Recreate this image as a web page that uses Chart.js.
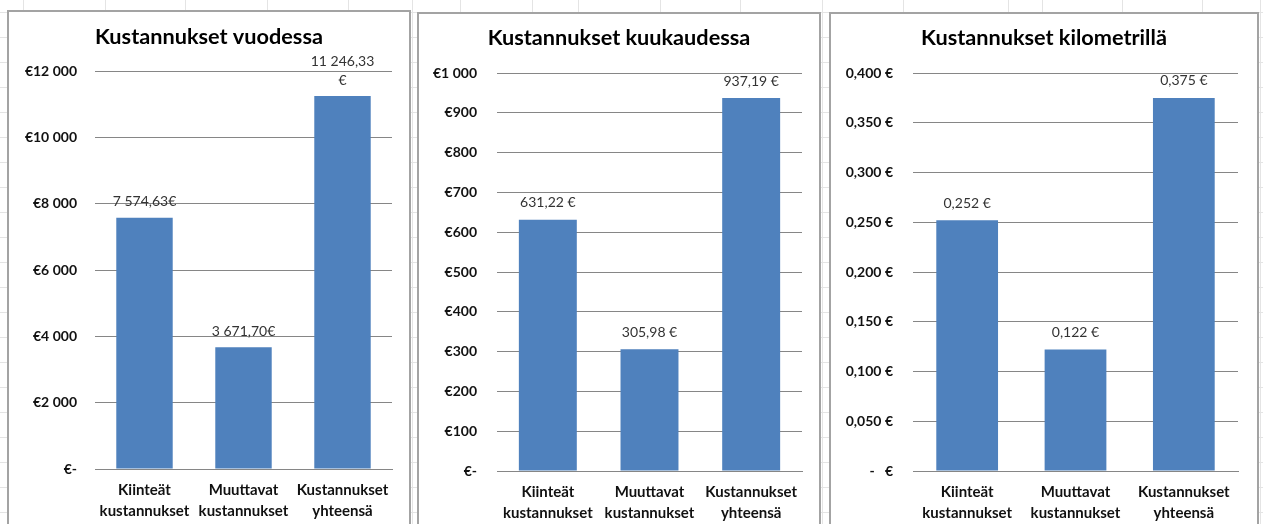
<!DOCTYPE html>
<html>
<head>
<meta charset="utf-8">
<title>Kustannukset</title>
<script src="https://cdn.jsdelivr.net/npm/chart.js@4/dist/chart.umd.min.js"></script>
<style>
  html, body { margin: 0; padding: 0; }
  body {
    width: 1263px; height: 524px; overflow: hidden; position: relative;
    background-color: #fff;
    background-image: repeating-linear-gradient(to bottom, transparent 0, transparent 12px, #e4e4e4 12px, #e4e4e4 13px, transparent 13px, transparent 25px);
  }
  .sheet-col { position: absolute; top: 0; width: 1px; height: 524px; background: #e4e4e4; }
  .box {
    position: absolute; box-sizing: border-box; height: 540px;
    border: 2px solid #a3a3a3; background: #fff;
  }
  .box canvas { display: block; }
</style>
</head>
<body>
<div class="box" id="box1" style="left:7px;top:10px;width:404px;"><canvas id="yearChart"></canvas></div>
<div class="box" id="box2" style="left:417px;top:12px;width:404px;"><canvas id="monthChart"></canvas></div>
<div class="box" id="box3" style="left:829px;top:12px;width:430px;"><canvas id="kmChart"></canvas></div>

<script>
// categories (shared by all three charts)
var categories = [
  ['Kiinteät', 'kustannukset'],
  ['Muuttavat', 'kustannukset'],
  ['Kustannukset', 'yhteensä']
];

// series values
var yearValues = [7574.63, 3671.70, 11246.33];
var monthValues = [631.22, 305.98, 937.19];
var kmValues = [0.252, 0.122, 0.375];

// value labels as shown above the bars
var yearLabels = ['7 574,63€', '3 671,70€', ['11 246,33', '€']];
var monthLabels = ['631,22 €', '305,98 €', '937,19 €'];
var kmLabels = ['0,252 €', '0,122 €', '0,375 €'];

// axis ranges
var yearAxis = { max: 12000, step: 2000 };
var monthAxis = { max: 1000, step: 100 };
var kmAxis = { max: 0.4, step: 0.05 };

// faint spreadsheet columns behind the charts
var sheetCols = [23, 105, 185, 267, 348, 412, 460, 532, 578, 660, 740, 822, 903, 1008, 1042, 1122, 1202, 1260];
sheetCols.forEach(function (x) {
  var d = document.createElement('div');
  d.className = 'sheet-col';
  d.style.left = x + 'px';
  document.body.insertBefore(d, document.body.firstChild);
});

var FONT = 'Lato, "Open Sans", sans-serif';
var BAR_COLOR = '#4F81BD';
var GRID_COLOR = '#868686';

function spaced(n) {
  return String(n).replace(/\B(?=(\d{3})+(?!\d))/g, ' ');
}

/**
 * Draw the value text above every bar.
 */
var valueLabelPlugin = {
  id: 'valueLabels',
  afterDatasetsDraw: function (chart, args, opts) {
    var ctx = chart.ctx;
    var meta = chart.getDatasetMeta(0);
    ctx.save();
    ctx.font = '14px ' + FONT;
    ctx.fillStyle = '#333';
    ctx.textAlign = 'center';
    ctx.textBaseline = 'middle';
    meta.data.forEach(function (bar, i) {
      var lines = [].concat(opts.labels[i]);
      var y = bar.y - opts.offset;
      for (var k = lines.length - 1; k >= 0; k--) {
        ctx.fillText(lines[k], bar.x, y);
        y -= 19;
      }
    });
    ctx.restore();
  }
};

/**
 * Render one Excel-style bar chart.
 */
function renderBarChart(canvasId, cfg) {
  var canvas = document.getElementById(canvasId);
  canvas.width = cfg.width;
  canvas.height = cfg.height;
  canvas.style.width = cfg.width + 'px';
  canvas.style.height = cfg.height + 'px';
  return new Chart(canvas.getContext('2d'), {
    type: 'bar',
    data: {
      labels: categories,
      datasets: [{
        data: cfg.values,
        backgroundColor: BAR_COLOR,
        borderWidth: 0,
        categoryPercentage: 0.57,
        barPercentage: 1
      }]
    },
    plugins: [valueLabelPlugin],
    options: {
      responsive: false,
      animation: false,
      layout: { padding: 0 },
      scales: {
        x: {
          grid: { display: false, drawTicks: false },
          border: { display: true, color: GRID_COLOR, width: 1 },
          ticks: {
            color: '#111',
            padding: 10,
            maxRotation: 0,
            autoSkip: false,
            font: { family: FONT, size: 15, weight: 'bold', lineHeight: 1.45 }
          },
          afterFit: function (scale) { scale.height = cfg.height - cfg.plotBottom; }
        },
        y: {
          min: 0,
          max: cfg.axis.max,
          grid: { color: GRID_COLOR, lineWidth: 1, drawTicks: false },
          border: { display: false },
          ticks: {
            stepSize: cfg.axis.step,
            color: '#111',
            padding: cfg.tickPad,
            font: { family: FONT, size: 14, weight: 'bold' },
            callback: cfg.tickFormat
          },
          afterFit: function (scale) { scale.width = cfg.plotLeft; }
        },
        // empty right-hand spacer so the title stays centred on the whole box
        spacer: {
          type: 'linear',
          position: 'right',
          grid: { display: false, drawTicks: false },
          border: { display: false },
          ticks: { display: false },
          afterFit: function (scale) { scale.width = cfg.padRight; }
        }
      },
      plugins: {
        legend: { display: false },
        tooltip: { enabled: false },
        title: {
          display: true,
          text: cfg.title,
          color: '#000',
          font: { family: FONT, size: 21.7, weight: 'bold', lineHeight: 1.2 },
          padding: { top: cfg.titleCenter - 13, bottom: cfg.plotTop - cfg.titleCenter - 13 }
        },
        valueLabels: { labels: cfg.labels, offset: cfg.labelOffset }
      }
    }
  });
}

renderBarChart('yearChart', {
  width: 400, height: 536,
  title: 'Kustannukset vuodessa', titleCenter: 25,
  plotLeft: 86, plotTop: 59, plotBottom: 457, padRight: 17, tickPad: 18,
  values: yearValues, labels: yearLabels, labelOffset: 16,
  axis: yearAxis,
  tickFormat: function (v) { return v === 0 ? '€-' : '€' + spaced(v); }
});

renderBarChart('monthChart', {
  width: 400, height: 536,
  title: 'Kustannukset kuukaudessa', titleCenter: 24,
  plotLeft: 78, plotTop: 59, plotBottom: 457, padRight: 17, tickPad: 20,
  values: monthValues, labels: monthLabels, labelOffset: 17,
  axis: monthAxis,
  tickFormat: function (v) { return v === 0 ? '€-' : '€' + spaced(v); }
});

renderBarChart('kmChart', {
  width: 426, height: 536,
  title: 'Kustannukset kilometrillä', titleCenter: 24,
  plotLeft: 82, plotTop: 59, plotBottom: 457, padRight: 19, tickPad: 20,
  values: kmValues, labels: kmLabels, labelOffset: 17,
  axis: kmAxis,
  tickFormat: function (v) { return v === 0 ? '-   €' : v.toFixed(3).replace('.', ',') + ' €'; }
});
</script>
</body>
</html>
